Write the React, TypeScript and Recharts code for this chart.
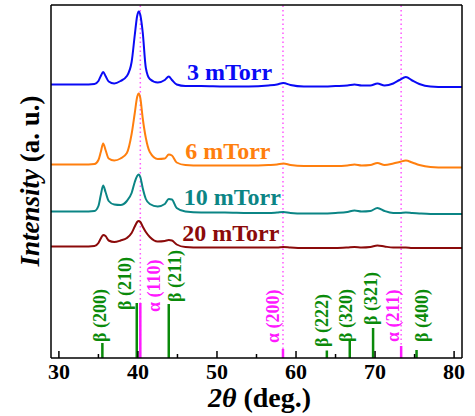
import { ComposedChart, Line, XAxis, YAxis, ReferenceLine, Scatter } from "recharts"

const FONT = '"Liberation Serif", "Times New Roman", serif'

// 2θ grid (deg.) shared by the four patterns
const twoTheta = [
  29, 31, 33, 34.5, 35.0, 35.3, 35.6, 35.9, 36.3, 37, 37.8, 38.6, 39.2, 39.6, 39.9, 40.1, 40.3, 40.6, 41.0, 41.5,
  42.5, 43.4, 43.9, 44.3, 44.9, 46, 48, 51, 54, 56.5, 57.6, 58.4, 59.3, 61, 63, 65, 66.5, 67.4, 68.3, 69.4,
  70.3, 71.2, 72.3, 73.1, 73.9, 74.7, 75.6, 77, 79, 81,
]

// intensities (a. u.), already offset as stacked in the figure
const int3 = [
  273.5, 273.5, 273.5, 274, 277, 282, 286, 282, 276.5, 274.5, 277, 282, 296, 323, 342, 346.5, 343, 326, 290, 279,
  275.5, 278, 281.5, 278, 273.5, 272, 272, 271.5, 271.5, 272.5, 273.5, 275, 273, 271.5, 271.5, 272, 272.5, 273.5, 272.5, 272.5,
  274.5, 272.5, 274.5, 278, 281, 277.5, 274, 271.5, 271, 271,
]
const int6 = [
  193.5, 193.5, 193.5, 194, 198, 206, 214.5, 208, 199.5, 197.5, 199.5, 205, 224, 245, 261, 264.5, 260, 240, 220, 206,
  199, 199.5, 203.5, 202.5, 195.5, 193, 192.5, 192.5, 192.5, 193, 193.5, 194.5, 193, 192, 192, 192, 192.5, 193.5, 192.5, 193,
  195, 193, 194.5, 196, 197.5, 195.5, 193, 191, 190.5, 190.5,
]
const int10 = [
  146.5, 146.5, 146.5, 147, 152, 163, 172.5, 166, 157, 153.5, 153, 157, 165, 176, 182, 183.5, 181, 170, 159, 154,
  151.5, 154, 159, 158.5, 150, 146.5, 145.5, 145.5, 145, 145, 145.5, 146, 145, 144.5, 144.5, 145, 146, 147.5, 146.5, 147,
  150, 147, 145, 145, 145.5, 145, 144.5, 144, 144, 144,
]
const int20 = [
  111.5, 111.5, 111.5, 112, 115, 119.5, 123, 122, 117.5, 116, 117.5, 120, 125, 131.5, 136, 137, 136, 131.5, 126, 121,
  116.5, 117, 118, 117.5, 113.5, 111, 110.5, 110.5, 110.5, 110.5, 110.5, 111, 110.5, 110, 110, 110, 110.5, 111, 110.5, 111,
  112.5, 111.5, 110.5, 110.5, 110.5, 110, 110, 110, 110, 110,
]

const seriesKeys = ["p3", "p6", "p10", "p20"]
const seriesNames = ["3 mTorr", "6 mTorr", "10 mTorr", "20 mTorr"]
const seriesColors = ["#0a0af5", "#ff7f0e", "#0b8585", "#8b0a0a"]
// where the pressure labels sit (deg., a. u.)
const seriesLabelX = [46.2, 46.0, 45.8, 45.6]
const seriesLabelY = [286, 207, 161, 125]

// reference reflections
const refNames = ["β (200)", "β (210)", "α (110)", "β (211)", "α (200)", "β (222)", "β (320)", "β (321)", "α (211)", "β (400)"]
const refPos = [35.5, 39.85, 40.3, 43.9, 58.35, 63.9, 66.8, 69.75, 73.3, 75.25]
const refInt = [15, 55, 55, 54, 9, 7.5, 18, 30, 12, 8]
const refLabelX = [35.25, 38.42, 41.97, 44.63, 57.13, 63.35, 66.3, 69.47, 72.26, 75.9]
const refLabelY = [16, 48, 46, 56, 15, 11, 16, 33, 16, 16]

const alphaLines = [40.3, 58.35, 73.3]
const xTicks = [30, 35, 40, 45, 50, 55, 60, 65, 70, 75, 80]

const GREEN = "#0a8a0a"
const MAGENTA = "#ff1aff"

const data = twoTheta.map((x, i) => ({ x, p3: int3[i], p6: int6[i], p10: int10[i], p20: int20[i] }))
const curveLabels = seriesNames.map((name, i) => ({ x: seriesLabelX[i], y: seriesLabelY[i], name, color: seriesColors[i] }))
const refLabels = refNames.map((name, i) => ({
  x: refLabelX[i],
  y: refLabelY[i],
  name,
  color: name.startsWith("α") ? MAGENTA : GREEN,
}))

function XTick(props: any) {
  const { x, y, payload } = props
  const v = payload.value
  const major = v % 10 === 0
  return (
    <g>
      <line x1={x} x2={x} y1={y} y2={y - (major ? 7 : 4)} stroke="#000" strokeWidth={1.5} />
      {major && (
        <text x={x} y={y + 21} textAnchor="middle" fontSize={22} fontWeight="bold" fontFamily={FONT} fill="#000">
          {v}
        </text>
      )}
    </g>
  )
}

function YTitle() {
  // centred on the plot box (top 4, bottom 358)
  return (
    <text
      transform="translate(30,181) rotate(-90)"
      textAnchor="middle"
      dominantBaseline="central"
      fontSize={27}
      fontWeight="bold"
      fontFamily={FONT}
      fill="#000"
    >
      <tspan fontStyle="italic">Intensity</tspan>
      <tspan> (a. u.)</tspan>
    </text>
  )
}

function XTitle(props: any) {
  const { viewBox } = props
  const cx = viewBox.x + viewBox.width / 2 + 3
  return (
    <text x={cx} y={407} textAnchor="middle" fontSize={28} fontWeight="bold" fontFamily={FONT} fill="#000">
      <tspan fontStyle="italic">2θ</tspan>
      <tspan> (deg.)</tspan>
    </text>
  )
}

function CurveLabel(props: any) {
  const { cx, cy, payload } = props
  return (
    <text x={cx} y={cy} dominantBaseline="central" fontSize={24} fontWeight="bold" fontFamily={FONT} fill={payload.color}>
      {payload.name}
    </text>
  )
}

function RefLabel(props: any) {
  const { cx, cy, payload } = props
  return (
    <text
      transform={`translate(${cx},${cy}) rotate(-90)`}
      dominantBaseline="central"
      fontSize={18}
      fontWeight="bold"
      fontFamily={FONT}
      fill={payload.color}
    >
      {payload.name}
    </text>
  )
}

export default function App() {
  return (
    <div style={{ position: "absolute", left: 0, top: 0, background: "#fff" }}>
      <ComposedChart width={475} height={416} data={data} margin={{ top: 4, right: 12, bottom: 28, left: 50 }}>
        <XAxis
          dataKey="x"
          type="number"
          domain={[29, 81]}
          allowDataOverflow
          ticks={xTicks}
          interval={0}
          tick={<XTick />}
          tickLine={false}
          tickSize={0}
          tickMargin={0}
          height={30}
          axisLine={{ stroke: "#000", strokeWidth: 1.5 }}
          label={<XTitle />}
        />
        <XAxis
          xAxisId="top"
          orientation="top"
          type="number"
          domain={[29, 81]}
          tick={false}
          tickLine={false}
          height={1}
          axisLine={{ stroke: "#000", strokeWidth: 1.5 }}
        />
        <YAxis
          dataKey="y"
          type="number"
          domain={[0, 353]}
          allowDataOverflow
          width={1}
          tick={false}
          tickLine={false}
          axisLine={{ stroke: "#000", strokeWidth: 1.5 }}
          label={<YTitle />}
        />
        <YAxis
          yAxisId="right"
          orientation="right"
          type="number"
          domain={[0, 353]}
          width={1}
          tick={false}
          tickLine={false}
          axisLine={{ stroke: "#000", strokeWidth: 1.5 }}
        />
        {alphaLines.map((x) => (
          <ReferenceLine key={x} x={x} stroke="#ff55ff" strokeWidth={1.5} strokeDasharray="1.5 3" />
        ))}
        {refPos.map((x, i) => (
          <ReferenceLine
            key={refNames[i]}
            segment={[
              { x, y: 0 },
              { x, y: refInt[i] },
            ]}
            stroke={refNames[i].startsWith("α") ? MAGENTA : GREEN}
            strokeWidth={2.5}
          />
        ))}
        {seriesKeys.map((k, i) => (
          <Line
            key={k}
            type="monotone"
            dataKey={k}
            stroke={seriesColors[i]}
            strokeWidth={2}
            dot={false}
            isAnimationActive={false}
          />
        ))}
        <Scatter data={curveLabels} dataKey="y" shape={<CurveLabel />} isAnimationActive={false} />
        <Scatter data={refLabels} dataKey="y" shape={<RefLabel />} isAnimationActive={false} />
      </ComposedChart>
    </div>
  )
}
